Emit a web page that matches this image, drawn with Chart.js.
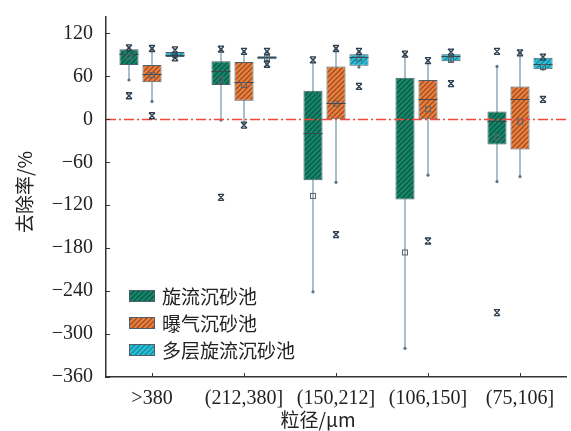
<!DOCTYPE html>
<html>
<head>
<meta charset="utf-8">
<script src="https://cdn.jsdelivr.net/npm/chart.js@4.4.1/dist/chart.umd.min.js"></script>
<style>
html, body { margin: 0; padding: 0; background: #fff; }
#wrap { width: 571px; height: 431px; }
</style>
</head>
<body>
<div id="wrap"><canvas id="boxChart" width="571" height="431"></canvas></div>
<script>
const categories = ['>380', '(212,380]', '(150,212]', '(106,150]', '(75,106]'];
const seriesNames = ['旋流沉砂池', '曝气沉砂池', '多层旋流沉砂池'];
const yTicks = [-360, -300, -240, -180, -120, -60, 0, 60, 120];

// 旋流沉砂池
const xlLow    = [55, -1, -241, -320, -87];
const xlQ1     = [76, 48, -85, -112, -35];
const xlMedian = [91, 68, -19, 0, -2];
const xlQ3     = [98, 81, 40, 58, 11];
const xlHigh   = [100, 98, 83, 91, 74];
const xlMean   = [87, 55, -107, -186, -25];
const xlMarks  = [[100, 33], [98, -109], [83], [91], [95, -270]];

// 曝气沉砂池
const bqLow    = [25, -8, -88, -78, -80];
const bqQ1     = [52, 26, 0, 0, -42];
const bqMedian = [63, 52, 23, 28, 29];
const bqQ3     = [76, 80, 74, 55, 46];
const bqHigh   = [99, 95, 99, 82, 93];
const bqMean   = [62, 48, 22, 14, -3];
const bqMarks  = [[99, 5], [95, -8], [99, -161], [82, -170], [93]];

// 多层旋流沉砂池
const dcLow    = [86, 77, 73, 81, 70];
const dcQ1     = [87, 84, 75, 81, 70];
const dcMedian = [90, 87, 87, 88, 77];
const dcQ3     = [94, 88, 91, 91, 86];
const dcHigh   = [97, 95, 95, 94, 87];
const dcMean   = [90, 86, 85, 83, 73];
const dcMarks  = [[97, 86], [95, 77], [95, 46], [94, 50], [87, 28]];

const series = [
    { low: xlLow, q1: xlQ1, median: xlMedian, q3: xlQ3, high: xlHigh, mean: xlMean, marks: xlMarks },
    { low: bqLow, q1: bqQ1, median: bqMedian, q3: bqQ3, high: bqHigh, mean: bqMean, marks: bqMarks },
    { low: dcLow, q1: dcQ1, median: dcMedian, q3: dcQ3, high: dcHigh, mean: dcMean, marks: dcMarks }
];

// hatch fills
function hatch(bg, fg) {
    const c = document.createElement('canvas');
    c.width = 5; c.height = 5;
    const g = c.getContext('2d');
    g.fillStyle = bg;
    g.fillRect(0, 0, 5, 5);
    g.strokeStyle = fg;
    g.lineWidth = 1.3;
    g.beginPath();
    g.moveTo(-1, 6); g.lineTo(6, -1);
    g.moveTo(-1, 1); g.lineTo(1, -1);
    g.moveTo(4, 6); g.lineTo(6, 4);
    g.stroke();
    return g.createPattern(c, 'repeat');
}
const fills = [
    hatch('#17876b', '#0c5a46'),
    hatch('#e8823e', '#a24a22'),
    hatch('#2cc0d6', '#168aa2')
];
const boxBorder = '#4d5f6a';
const whiskerColor = '#8fa9b8';
const serifFont = '"Liberation Serif", "DejaVu Serif", serif';
const cjkFont = '"Noto Sans CJK SC", sans-serif';

function drawMark(ctx, x, y) {
    const r = 3;
    ctx.beginPath();
    ctx.moveTo(x - r, y - r); ctx.lineTo(x + r, y + r);
    ctx.moveTo(x + r, y - r); ctx.lineTo(x - r, y + r);
    ctx.moveTo(x - r, y - r); ctx.lineTo(x + r, y - r);
    ctx.moveTo(x - r, y + r); ctx.lineTo(x + r, y + r);
    ctx.stroke();
}

const boxExtras = {
    id: 'boxExtras',
    beforeDatasetsDraw(chart) {
        const ctx = chart.ctx, y = chart.scales.y;
        ctx.save();
        ctx.strokeStyle = whiskerColor;
        ctx.fillStyle = '#5d7484';
        ctx.lineWidth = 1.5;
        series.forEach((s, i) => {
            chart.getDatasetMeta(i).data.forEach((bar, j) => {
                const yl = y.getPixelForValue(s.low[j]);
                const yh = y.getPixelForValue(s.high[j]);
                ctx.beginPath();
                ctx.moveTo(bar.x, yl);
                ctx.lineTo(bar.x, yh);
                ctx.stroke();
                [yl, yh].forEach(py => {
                    ctx.beginPath();
                    ctx.arc(bar.x, py, 1.6, 0, Math.PI * 2);
                    ctx.fill();
                });
            });
        });
        ctx.restore();
    },
    afterDatasetsDraw(chart) {
        const ctx = chart.ctx, y = chart.scales.y, area = chart.chartArea;
        ctx.save();
        // medians
        ctx.strokeStyle = '#3a4a52';
        ctx.lineWidth = 1;
        series.forEach((s, i) => {
            chart.getDatasetMeta(i).data.forEach((bar, j) => {
                const py = Math.round(y.getPixelForValue(s.median[j])) + 0.5;
                ctx.beginPath();
                ctx.moveTo(bar.x - bar.width / 2, py);
                ctx.lineTo(bar.x + bar.width / 2, py);
                ctx.stroke();
            });
        });
        // zero line
        const y0 = Math.round(y.getPixelForValue(0)) + 0.5;
        ctx.strokeStyle = '#f2473a';
        ctx.lineWidth = 1.5;
        ctx.setLineDash([10, 3, 2, 3]);
        ctx.beginPath();
        ctx.moveTo(area.left, y0);
        ctx.lineTo(area.right, y0);
        ctx.stroke();
        ctx.setLineDash([]);
        // means and extreme marks
        series.forEach((s, i) => {
            chart.getDatasetMeta(i).data.forEach((bar, j) => {
                const pm = y.getPixelForValue(s.mean[j]);
                ctx.strokeStyle = '#55656e';
                ctx.lineWidth = 1;
                ctx.strokeRect(bar.x - 2.5, pm - 2.5, 5, 5);
                ctx.strokeStyle = '#2e4050';
                ctx.lineWidth = 1.3;
                s.marks[j].forEach(v => drawMark(ctx, bar.x, y.getPixelForValue(v)));
            });
        });
        ctx.restore();
    },
    afterDraw(chart) {
        const ctx = chart.ctx, area = chart.chartArea;
        const x = chart.scales.x, y = chart.scales.y;
        ctx.save();
        // inward tick marks
        ctx.strokeStyle = '#333';
        ctx.lineWidth = 1;
        y.ticks.forEach((t, k) => {
            const py = Math.round(y.getPixelForTick(k)) + 0.5;
            ctx.beginPath();
            ctx.moveTo(area.left, py);
            ctx.lineTo(area.left + 4, py);
            ctx.stroke();
        });
        x.ticks.forEach((t, k) => {
            const px = Math.round(x.getPixelForTick(k)) + 0.5;
            ctx.beginPath();
            ctx.moveTo(px, area.bottom);
            ctx.lineTo(px, area.bottom - 4);
            ctx.stroke();
        });
        // axis titles
        ctx.fillStyle = '#222';
        ctx.font = '19px ' + cjkFont;
        ctx.textAlign = 'center';
        ctx.textBaseline = 'middle';
        ctx.fillText('粒径/μm', 318, 420);
        ctx.save();
        ctx.translate(25, 192);
        ctx.rotate(-Math.PI / 2);
        ctx.fillText('去除率/%', 0, 0);
        ctx.restore();
        // legend
        ctx.textAlign = 'left';
        ctx.font = '19px ' + cjkFont;
        seriesNames.forEach((name, i) => {
            const cy = 296 + i * 27;
            ctx.fillStyle = fills[i];
            ctx.fillRect(129, cy - 6, 26, 12);
            ctx.strokeStyle = boxBorder;
            ctx.lineWidth = 1;
            ctx.strokeRect(129.5, cy - 5.5, 25, 11);
            ctx.fillStyle = '#222';
            ctx.fillText(name, 162, cy + 1);
        });
        ctx.restore();
    }
};

new Chart(document.getElementById('boxChart'), {
    type: 'bar',
    data: {
        labels: categories,
        datasets: series.map((s, i) => ({
            label: seriesNames[i],
            data: s.q1.map((v, j) => [v, s.q3[j]]),
            backgroundColor: fills[i],
            borderColor: boxBorder,
            borderWidth: 1,
            borderSkipped: false,
            categoryPercentage: 0.75,
            barPercentage: 0.83
        }))
    },
    options: {
        responsive: false,
        animation: false,
        layout: { padding: { top: 12, right: 5, left: 0, bottom: 0 } },
        plugins: {
            legend: { display: false },
            tooltip: { enabled: false }
        },
        scales: {
            x: {
                grid: { display: false },
                border: { color: '#333', width: 1.5 },
                ticks: { color: '#222', font: { family: serifFont, size: 20 }, padding: 2, maxRotation: 0 },
                afterFit: s => { s.height = 54; }
            },
            y: {
                min: -360,
                max: 143,
                grid: { display: false },
                border: { color: '#333', width: 1.5 },
                ticks: {
                    color: '#222',
                    font: { family: serifFont, size: 20 },
                    padding: 5,
                    callback: v => String(v).replace('-', '\u2212')
                },
                afterBuildTicks: s => { s.ticks = yTicks.map(v => ({ value: v })); },
                afterFit: s => { s.width = 106; }
            }
        }
    },
    plugins: [boxExtras]
});
</script>
</body>
</html>
